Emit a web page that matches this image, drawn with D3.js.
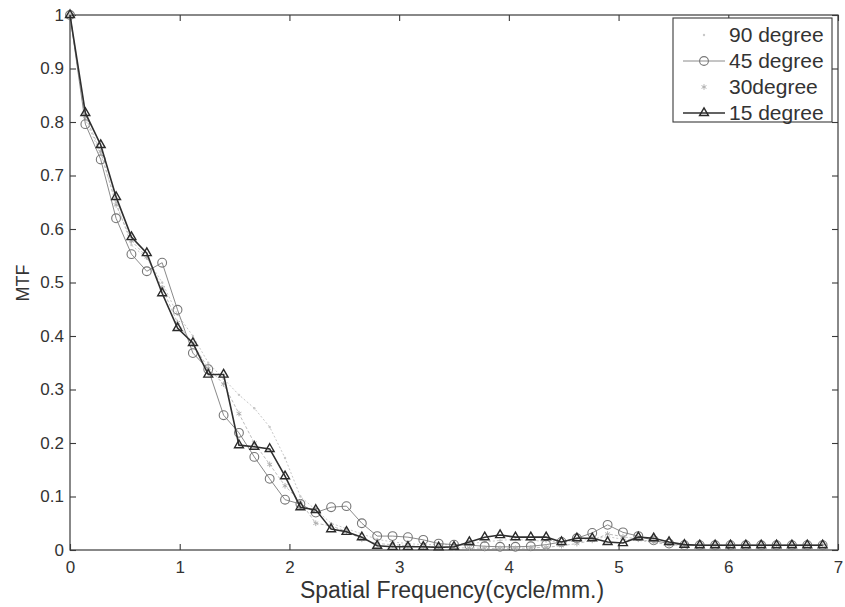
<!DOCTYPE html>
<html><head><meta charset="utf-8">
<script src="https://cdn.jsdelivr.net/npm/d3@7"></script>
<style>
html,body{margin:0;padding:0;background:#fff;}
svg{display:block;font-family:"Liberation Sans",Arial,Helvetica,sans-serif;}
</style></head>
<body>
<svg id="chart" width="845" height="607"></svg>
<script>
// ---- data ----
const freq = [0,0.14,0.28,0.42,0.56,0.70,0.84,0.98,1.12,1.26,1.40,1.54,1.68,1.82,1.96,2.10,2.24,2.38,2.52,2.66,2.80,2.94,3.08,3.22,3.36,3.50,3.64,3.78,3.92,4.06,4.20,4.34,4.48,4.62,4.76,4.90,5.04,5.18,5.32,5.46,5.60,5.74,5.88,6.02,6.16,6.30,6.44,6.58,6.72,6.86];
const deg90 = [1.0,0.805,0.74,0.65,0.57,0.545,0.5,0.44,0.4,0.35,0.32,0.29,0.265,0.23,0.172,0.1,0.075,0.05,0.04,0.03,0.02,0.015,0.012,0.01,0.01,0.01,0.012,0.015,0.018,0.02,0.018,0.016,0.015,0.018,0.02,0.025,0.02,0.018,0.014,0.01,0.009,0.009,0.009,0.009,0.009,0.009,0.009,0.009,0.009,0.009];
const deg45 = [1.0,0.796,0.73,0.62,0.553,0.521,0.537,0.449,0.368,0.338,0.252,0.219,0.174,0.133,0.094,0.086,0.07,0.08,0.082,0.05,0.026,0.026,0.024,0.019,0.012,0.01,0.009,0.007,0.006,0.006,0.007,0.01,0.015,0.022,0.032,0.047,0.033,0.026,0.018,0.012,0.009,0.009,0.009,0.009,0.009,0.009,0.009,0.009,0.009,0.009];
const deg30 = [1.0,0.81,0.745,0.645,0.578,0.548,0.49,0.425,0.385,0.34,0.31,0.255,0.2,0.16,0.12,0.09,0.05,0.045,0.035,0.02,0.012,0.01,0.008,0.006,0.005,0.004,0.004,0.003,0.003,0.003,0.004,0.005,0.008,0.012,0.018,0.03,0.025,0.02,0.015,0.01,0.009,0.009,0.009,0.009,0.009,0.009,0.009,0.009,0.009,0.009];
const deg15 = [1.0,0.817,0.757,0.66,0.585,0.555,0.48,0.415,0.387,0.328,0.328,0.196,0.193,0.189,0.138,0.08,0.075,0.039,0.034,0.024,0.008,0.006,0.006,0.006,0.005,0.006,0.015,0.024,0.028,0.024,0.024,0.024,0.015,0.022,0.022,0.015,0.013,0.024,0.022,0.015,0.01,0.009,0.009,0.009,0.009,0.009,0.009,0.009,0.009,0.009];
const seriesNames = ["90 degree","45 degree","30degree","15 degree"];
const xTicks = [0,1,2,3,4,5,6,7];
const yTicks = [0,0.1,0.2,0.3,0.4,0.5,0.6,0.7,0.8,0.9,1];
const yTickLabels = ["0","0.1","0.2","0.3","0.4","0.5","0.6","0.7","0.8","0.9","1"];
const xTitle = "Spatial Frequency(cycle/mm.)";
const yTitle = "MTF";

// ---- layout ----
const L = 70, R = 838, T = 15, B = 550;
const svg = d3.select("#chart");
const x = d3.scaleLinear().domain([0,7]).range([L,R]);
const y = d3.scaleLinear().domain([0,1]).range([B,T]);

const axisColor = "#3a3a3a";
const textColor = "#333";

// frame
svg.append("rect").attr("x",L).attr("y",T).attr("width",R-L).attr("height",B-T)
  .attr("fill","none").attr("stroke",axisColor).attr("stroke-width",1.2);

// axes (inward ticks, MATLAB-like)
const gx = svg.append("g").attr("transform",`translate(0,${B})`)
  .call(d3.axisBottom(x).tickValues(xTicks).tickSize(-6).tickPadding(11).tickFormat(d3.format("d")));
const gxTop = svg.append("g").attr("transform",`translate(0,${T})`)
  .call(d3.axisTop(x).tickValues(xTicks).tickSize(-6).tickFormat(""));
const gy = svg.append("g").attr("transform",`translate(${L},0)`)
  .call(d3.axisLeft(y).tickValues(yTicks).tickSize(-6).tickPadding(6).tickFormat((d,i)=>yTickLabels[i]));
const gyR = svg.append("g").attr("transform",`translate(${R},0)`)
  .call(d3.axisRight(y).tickValues(yTicks).tickSize(-6).tickFormat(""));
[gx,gxTop,gy,gyR].forEach(g=>{
  g.select(".domain").remove();
  g.selectAll(".tick line").attr("stroke",axisColor).attr("stroke-width",1.1);
  g.selectAll(".tick text").attr("fill",textColor).style("font-size","17px")
    .style("font-family",'"Liberation Sans",Arial,sans-serif');
});

// titles
svg.append("text").attr("x",(L+R)/2 - 2).attr("y",598).attr("text-anchor","middle")
  .attr("fill",textColor).style("font-size","23px").text(xTitle);
svg.append("text").attr("transform",`translate(29,283) rotate(-90)`).attr("text-anchor","middle")
  .attr("fill",textColor).style("font-size","18px").text(yTitle);

// series
const styles = [
  {data:deg90, stroke:"#c8c8c8", width:1, dash:"2,2", marker:"dot", mstroke:"#c8c8c8"},
  {data:deg45, stroke:"#8a8a8a", width:1, dash:null, marker:"circle", mstroke:"#777"},
  {data:deg30, stroke:"#bdbdbd", width:1, dash:"3,2", marker:"star", mstroke:"#aaa"},
  {data:deg15, stroke:"#2f2f2f", width:1.6, dash:null, marker:"triangle", mstroke:"#2a2a2a"}
];
const line = d3.line().x((d,i)=>x(freq[i])).y(d=>y(d));

function drawMarker(g, type, cx, cy, color){
  if(type==="circle"){
    g.append("circle").attr("cx",cx).attr("cy",cy).attr("r",4.4)
      .attr("fill","none").attr("stroke",color).attr("stroke-width",1.1);
  } else if(type==="triangle"){
    g.append("path").attr("d",d3.symbol().type(d3.symbolTriangle).size(34)())
      .attr("transform",`translate(${cx},${cy})`)
      .attr("fill","none").attr("stroke",color).attr("stroke-width",1.4);
  } else if(type==="star"){
    g.append("path").attr("d",d3.symbol().type(d3.symbolAsterisk).size(22)())
      .attr("transform",`translate(${cx},${cy})`)
      .attr("fill","none").attr("stroke",color).attr("stroke-width",0.9);
  } else {
    g.append("circle").attr("cx",cx).attr("cy",cy).attr("r",1.2).attr("fill",color);
  }
}

styles.forEach((s,k)=>{
  const g = svg.append("g").attr("class","series s"+k);
  g.append("path").datum(s.data).attr("d",line).attr("fill","none")
    .attr("stroke",s.stroke).attr("stroke-width",s.width)
    .attr("stroke-dasharray",s.dash);
  s.data.forEach((v,i)=>drawMarker(g,s.marker,x(freq[i]),y(v),s.mstroke));
});

// legend
const lg = svg.append("g");
lg.append("rect").attr("x",673).attr("y",18).attr("width",159).attr("height",104)
  .attr("fill","#fff").attr("stroke",axisColor).attr("stroke-width",1.1);
seriesNames.forEach((name,k)=>{
  const cy = 35 + k*26;
  const s = styles[k];
  if(k===1 || k===3){
    lg.append("line").attr("x1",683).attr("x2",725).attr("y1",cy).attr("y2",cy)
      .attr("stroke",s.stroke).attr("stroke-width",s.width);
  }
  drawMarker(lg,s.marker,704,cy,s.mstroke);
  lg.append("text").attr("x",729).attr("y",cy+7).attr("fill",textColor)
    .style("font-size","21px").text(name);
});
</script>
</body></html>
